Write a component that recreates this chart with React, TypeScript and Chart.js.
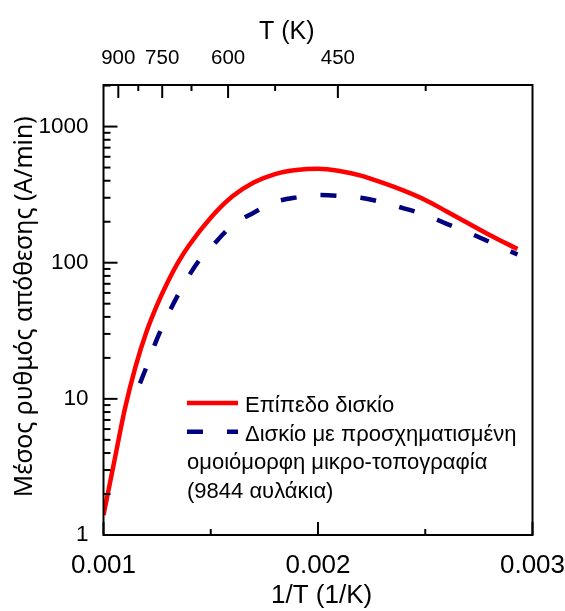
import React, { useEffect, useRef } from 'react';
import { Chart, registerables } from 'chart.js';

Chart.register(...registerables);

// 1/T (1/K) positions and deposition rates (A/min)
const flatInvT = [0.001, 0.00105, 0.0011, 0.00115, 0.0012, 0.00125, 0.0013, 0.00135, 0.0014, 0.0015, 0.0016, 0.0017, 0.0018, 0.0019, 0.002, 0.0021, 0.0022, 0.0023, 0.0024, 0.0025, 0.0026, 0.0027, 0.0028, 0.00293];
const flatRate = [1.4, 3.45, 8.5, 17.4, 31, 49, 72.5, 102, 135, 214, 306, 388, 448, 480, 490, 472, 436, 387, 338, 289, 238, 195, 160, 126];

const patternedInvT = [0.00117, 0.0012, 0.00125, 0.0013, 0.00135, 0.0014, 0.00145, 0.0015, 0.0016, 0.0017, 0.0018, 0.0019, 0.002, 0.0021, 0.0022, 0.0023, 0.0024, 0.0025, 0.0026, 0.0027, 0.0028, 0.00293];
const patternedRate = [13.0, 17.1, 27.7, 41.3, 59, 81, 106, 129, 188, 233, 279, 302, 314, 310, 300, 278, 251, 225, 193, 167, 142, 115];

const seriesNames = ['Επίπεδο δισκίο', 'Δισκίο με προσχηματισμένη ομοιόμορφη μικρο-τοπογραφία (9844 αυλάκια)'];
const legendLines = ['Επίπεδο δισκίο', 'Δισκίο με προσχηματισμένη', 'ομοιόμορφη μικρο-τοπογραφία', '(9844 αυλάκια)'];

const bottomMajorTicks = [0.001, 0.002, 0.003];
const bottomMinorTicks = [0.0015, 0.0025];
const leftMajorTicks = [1, 10, 100, 1000];
const leftMinorMultipliers = [2, 3, 4, 5, 6, 7, 8, 9];
const topMajorT = [900, 750, 600, 450];
const topMinorT = [825, 675, 525, 375];

const xMin = 0.001;
const xMax = 0.003;
const yMin = 1;
const yMax = 2020;
const topInvMin = 0.0010362;
const topInvMax = 0.0032072;

const FONT = '"Liberation Sans", Arial, sans-serif';

const framePlugin = {
  id: 'frameTicks',
  afterDatasetsDraw(chart: any) {
    const { ctx, chartArea: a, scales } = chart;
    const x = scales.x;
    const y = scales.y;
    const xt = scales.xTop;
    ctx.save();
    ctx.strokeStyle = '#000';
    ctx.lineWidth = 2;
    ctx.strokeRect(a.left, a.top, a.right - a.left, a.bottom - a.top);
    const line = (x1: number, y1: number, x2: number, y2: number) => {
      ctx.beginPath();
      ctx.moveTo(x1, y1);
      ctx.lineTo(x2, y2);
      ctx.stroke();
    };
    bottomMajorTicks.forEach((v) => {
      const p = x.getPixelForValue(v);
      line(p, a.bottom, p, a.bottom - 13);
    });
    bottomMinorTicks.forEach((v) => {
      const p = x.getPixelForValue(v);
      line(p, a.bottom, p, a.bottom - 6);
    });
    leftMajorTicks.forEach((v) => {
      const p = y.getPixelForValue(v);
      line(a.left, p, a.left + 14, p);
    });
    leftMajorTicks.forEach((d) => {
      leftMinorMultipliers.forEach((m) => {
        const v = d * m;
        if (v <= yMax) {
          const p = y.getPixelForValue(v);
          line(a.left, p, a.left + 7, p);
        }
      });
    });
    topMajorT.forEach((t) => {
      const p = xt.getPixelForValue(1 / t);
      line(p, a.top, p, a.top + 13);
    });
    topMinorT.forEach((t) => {
      const p = xt.getPixelForValue(1 / t);
      line(p, a.top, p, a.top + 6);
    });
    ctx.restore();
  },
};

const legendPlugin = {
  id: 'innerLegend',
  afterDraw(chart: any) {
    const { ctx, chartArea: a } = chart;
    const sx = a.left + 83.5;
    const ex = a.left + 134.5;
    const tx = a.left + 141.5;
    const base = a.top + 327;
    const step = 28.7;
    ctx.save();
    ctx.font = '22px ' + FONT;
    ctx.fillStyle = '#000';
    ctx.textBaseline = 'alphabetic';
    ctx.textAlign = 'left';
    ctx.strokeStyle = '#ff0000';
    ctx.lineWidth = 4.5;
    ctx.beginPath();
    ctx.moveTo(sx, base - 9);
    ctx.lineTo(ex, base - 9);
    ctx.stroke();
    ctx.strokeStyle = '#000080';
    ctx.setLineDash([16, 24]);
    ctx.beginPath();
    ctx.moveTo(sx, base + step - 9);
    ctx.lineTo(ex, base + step - 9);
    ctx.stroke();
    ctx.setLineDash([]);
    ctx.fillText(legendLines[0], tx, base);
    ctx.fillText(legendLines[1], tx, base + step);
    ctx.fillText(legendLines[2], sx, base + 2 * step);
    ctx.fillText(legendLines[3], sx, base + 3 * step);
    ctx.restore();
  },
};

export default function App() {
  const ref = useRef<HTMLCanvasElement | null>(null);

  useEffect(() => {
    if (!ref.current) return;
    const chart = new Chart(ref.current, {
      type: 'line',
      data: {
        datasets: [
          {
            label: seriesNames[0],
            data: flatInvT.map((u, i) => ({ x: u, y: flatRate[i] })),
            borderColor: '#ff0000',
            borderWidth: 4.5,
            pointRadius: 0,
            fill: false,
            cubicInterpolationMode: 'monotone',
            xAxisID: 'x',
            yAxisID: 'y',
          },
          {
            label: seriesNames[1],
            data: patternedInvT.map((u, i) => ({ x: u, y: patternedRate[i] })),
            borderColor: '#000080',
            borderWidth: 4.5,
            borderDash: [16, 24],
            pointRadius: 0,
            fill: false,
            cubicInterpolationMode: 'monotone',
            xAxisID: 'x',
            yAxisID: 'y',
          },
        ],
      },
      options: {
        responsive: false,
        animation: false,
        layout: { padding: { left: 0, right: 32.5, top: 0, bottom: 0 } },
        plugins: {
          legend: { display: false },
          tooltip: { enabled: false },
        },
        scales: {
          x: {
            type: 'linear',
            position: 'bottom',
            min: xMin,
            max: xMax,
            grid: { display: false, drawTicks: false, tickLength: 0 },
            border: { display: false },
            afterBuildTicks: (s: any) => {
              s.ticks = bottomMajorTicks.map((v) => ({ value: v }));
            },
            afterFit: (s: any) => {
              s.height = 76;
              s.paddingLeft = 0;
              s.paddingRight = 0;
            },
            ticks: {
              color: '#000',
              font: { family: FONT, size: 26 },
              padding: 15,
              maxRotation: 0,
              autoSkip: false,
              callback: (v: any) => Number(v).toFixed(3),
            },
            title: {
              display: true,
              text: '\u00a01/T (1/K)',
              color: '#000',
              font: { family: FONT, size: 26 },
              padding: { top: 0, bottom: 0 },
            },
          },
          xTop: {
            type: 'linear',
            position: 'top',
            min: topInvMin,
            max: topInvMax,
            grid: { display: false, drawTicks: false, tickLength: 0 },
            border: { display: false },
            afterBuildTicks: (s: any) => {
              s.ticks = topMajorT.map((t) => ({ value: 1 / t }));
            },
            afterFit: (s: any) => {
              s.height = 85;
              s.paddingLeft = 0;
              s.paddingRight = 0;
            },
            ticks: {
              color: '#000',
              font: { family: FONT, size: 20.5 },
              padding: 14,
              maxRotation: 0,
              autoSkip: false,
              callback: (v: any) => String(Math.round(1 / Number(v))),
            },
            title: {
              display: true,
              text: 'T (K)\u00a0\u00a0\u00a0\u00a0\u00a0\u00a0\u00a0\u00a0\u00a0',
              color: '#000',
              font: { family: FONT, size: 25 },
              padding: { top: 17, bottom: 0 },
            },
          },
          y: {
            type: 'logarithmic',
            position: 'left',
            min: yMin,
            max: yMax,
            grid: { display: false, drawTicks: false, tickLength: 0 },
            border: { display: false },
            afterBuildTicks: (s: any) => {
              s.ticks = leftMajorTicks.map((v) => ({ value: v }));
            },
            afterFit: (s: any) => {
              s.width = 103.5;
              s.paddingTop = 0;
              s.paddingBottom = 0;
            },
            ticks: {
              color: '#000',
              font: { family: FONT, size: 22.5 },
              padding: 15,
              autoSkip: false,
              callback: (v: any) => String(v),
            },
            title: {
              display: true,
              text: '\u00a0Μέσος ρυθμός απόθεσης (A/min)',
              color: '#000',
              font: { family: '"Noto Sans", "Open Sans", sans-serif', size: 24.8 },
              padding: { top: 10, bottom: 0 },
            },
          },
        },
      },
      plugins: [framePlugin, legendPlugin],
    } as any);
    return () => chart.destroy();
  }, []);

  return (
    <div style={{ position: 'absolute', left: 0, top: 0, width: 565, height: 611, background: '#fff' }}>
      <canvas ref={ref} width={565} height={611} style={{ display: 'block' }} />
    </div>
  );
}
